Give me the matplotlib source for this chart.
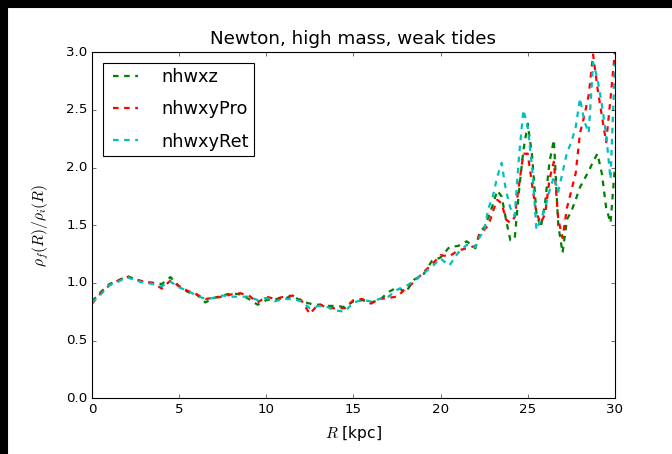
import numpy as np
import matplotlib
matplotlib.use('Agg')
import matplotlib.pyplot as plt
from matplotlib.patches import Rectangle

plt.style.use('classic')

# radius grid [kpc]: 0.5 kpc steps to 22, then 0.25 kpc steps to 30
r = np.concatenate([np.arange(0, 22.01, 0.5), np.arange(22.25, 30.01, 0.25)])

nhwxz = [0.84, 0.92, 0.99, 1.02, 1.06, 1.03, 1.00, 1.00, 0.99, 1.05,
         0.97, 0.92, 0.90, 0.83, 0.87, 0.89, 0.91, 0.90, 0.86, 0.81,
         0.85, 0.86, 0.86, 0.89, 0.84, 0.82, 0.81, 0.80, 0.80, 0.79,
         0.84, 0.85, 0.83, 0.85, 0.92, 0.96, 0.92, 1.03, 1.07, 1.19,
         1.22, 1.31, 1.32, 1.36, 1.30,
         1.44, 1.48, 1.57, 1.68, 1.80, 1.75, 1.55, 1.37, 1.38, 1.80,
         2.15, 2.38, 2.10, 1.60, 1.48, 1.70, 2.05, 2.24, 1.50, 1.26,
         1.55, 1.62, 1.72, 1.83, 1.90, 1.97, 2.05, 2.12, 1.95, 1.65,
         1.52, 2.00]
nhwxyPro = [0.82, 0.91, 0.98, 1.02, 1.05, 1.03, 1.01, 1.00, 0.95, 1.02,
            0.97, 0.93, 0.90, 0.86, 0.87, 0.88, 0.90, 0.91, 0.89, 0.83,
            0.88, 0.86, 0.88, 0.89, 0.85, 0.73, 0.82, 0.78, 0.78, 0.78,
            0.85, 0.86, 0.82, 0.86, 0.87, 0.88, 0.95, 1.01, 1.09, 1.16,
            1.24, 1.23, 1.28, 1.30, 1.32,
            1.43, 1.46, 1.50, 1.62, 1.72, 1.69, 1.55, 1.52, 1.57, 1.85,
            2.12, 2.12, 1.85, 1.60, 1.52, 1.60, 1.90, 2.05, 1.55, 1.39,
            1.65, 1.80, 1.95, 2.30, 2.45, 2.63, 2.98, 2.69, 2.45, 2.22,
            2.60, 3.00]
nhwxyRet = [0.83, 0.90, 0.98, 1.01, 1.05, 1.02, 1.00, 0.99, 0.97, 1.01,
            0.96, 0.93, 0.89, 0.86, 0.87, 0.89, 0.88, 0.88, 0.88, 0.85,
            0.87, 0.84, 0.86, 0.86, 0.84, 0.78, 0.80, 0.79, 0.76, 0.75,
            0.83, 0.85, 0.84, 0.86, 0.88, 0.94, 0.97, 1.02, 1.08, 1.14,
            1.21, 1.15, 1.26, 1.33, 1.31,
            1.40, 1.45, 1.65, 1.75, 1.92, 2.04, 1.80, 1.65, 1.58, 2.10,
            2.50, 2.35, 2.00, 1.46, 1.55, 1.65, 1.80, 1.92, 1.79, 1.96,
            2.13, 2.22, 2.35, 2.60, 2.40, 2.30, 2.91, 2.77, 2.55, 2.28,
            1.90, 2.90]

fig = plt.figure(figsize=(8.4, 5.675), dpi=80)
ax = fig.add_axes([0.137, 0.123, 0.778, 0.762])

ax.plot(r, nhwxz, 'g--', lw=2, dashes=(5, 5), label='nhwxz')
ax.plot(r, nhwxyPro, 'r--', lw=2, dashes=(5, 5), label='nhwxyPro')
ax.plot(r, nhwxyRet, 'c--', lw=2, dashes=(5, 5), label='nhwxyRet')

ax.set_xlim(0, 30)
ax.set_ylim(0, 3)
ax.set_xticks([0, 5, 10, 15, 20, 25, 30])
ax.set_yticks([0.0, 0.5, 1.0, 1.5, 2.0, 2.5, 3.0])
ax.set_title('Newton, high mass, weak tides', fontsize=16.5, pad=7)
ax.set_xlabel(r'$R$ [kpc]', fontsize=14, labelpad=8)
ax.set_ylabel(r'$\rho_f(R)/\rho_i(R)$', fontsize=14, labelpad=14)
ax.legend(loc='upper left', fontsize=16, labelspacing=0.8,
          handletextpad=1.0, borderpad=0.3, borderaxespad=0.6)

# black strips along top and left edge as in the screenshot
fig.add_artist(Rectangle((0, 1 - 7 / 454), 1, 7 / 454, transform=fig.transFigure,
                         color='black', zorder=10))
fig.add_artist(Rectangle((0, 0), 7 / 672, 1, transform=fig.transFigure,
                         color='black', zorder=10))

fig.savefig('out.png', dpi=80)
